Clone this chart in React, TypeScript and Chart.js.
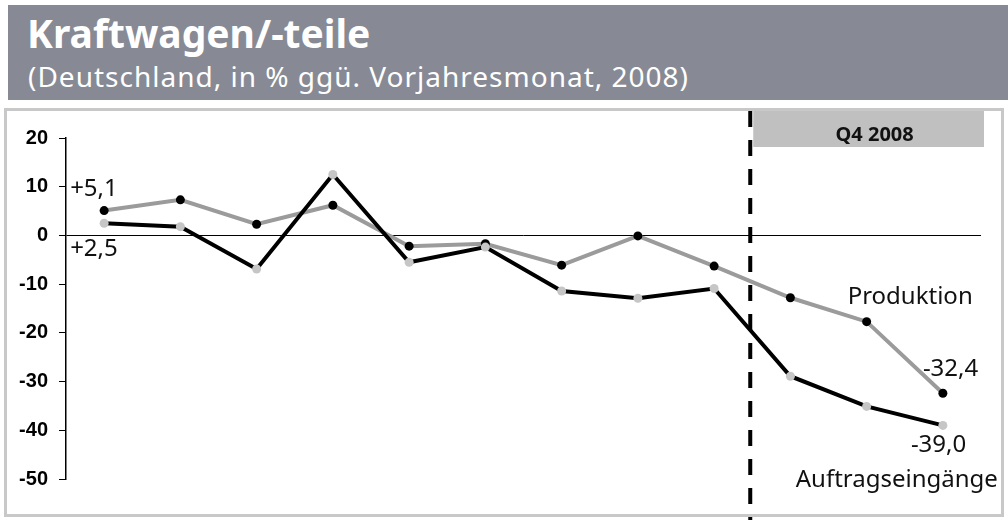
import React, { useEffect, useRef } from "react";
import { Chart, registerables } from "chart.js";

Chart.register(...registerables);

// ---- data ----
const months = ["Jan", "Feb", "Mär", "Apr", "Mai", "Jun", "Jul", "Aug", "Sep", "Okt", "Nov", "Dez"];
const produktion = [5.1, 7.3, 2.3, 6.2, -2.2, -1.7, -6.1, -0.1, -6.3, -12.8, -17.7, -32.4];
const auftragseingaenge = [2.5, 1.8, -6.9, 12.5, -5.5, -2.4, -11.4, -12.9, -10.9, -28.9, -35.1, -39.0];
const yTicks = [20, 10, 0, -10, -20, -30, -40, -50];
const seriesNames = ["Auftragseingänge", "Produktion"];
const produktionEndLabels = ["+5,1", "-32,4"];
const auftragEndLabels = ["+2,5", "-39,0"];
const quarterLabel = "Q4 2008";
const quarterStart = 8.5; // boundary between Sep and Okt (category index)
const titleText = "Kraftwagen/-teile";
const subtitleText = "(Deutschland, in % ggü. Vorjahresmonat, 2008)";

const LABEL_FONT = "24px 'Noto Sans'";

const annotationPlugin = {
  id: "annotations",
  beforeDatasetsDraw(chart: any) {
    const { ctx, chartArea } = chart;
    const xd = chart.scales.x.getPixelForValue(quarterStart);
    ctx.save();
    ctx.fillStyle = "#c0c0c0";
    const bx = xd + 1;
    const bw = chartArea.right + 3 - bx;
    ctx.fillRect(bx, 111, bw, 36);
    ctx.fillStyle = "#111";
    ctx.font = "bold 20px 'Noto Sans'";
    ctx.textAlign = "center";
    ctx.textBaseline = "alphabetic";
    ctx.fillText(quarterLabel, bx + bw / 2 + 6, 141);
    ctx.restore();
  },
  afterDatasetsDraw(chart: any) {
    const { ctx } = chart;
    const xd = chart.scales.x.getPixelForValue(quarterStart);
    ctx.save();
    ctx.strokeStyle = "#000";
    ctx.lineWidth = 4;
    ctx.setLineDash([16, 13]);
    ctx.beginPath();
    ctx.moveTo(xd - 2, 111);
    ctx.lineTo(xd - 2, 520);
    ctx.stroke();
    ctx.setLineDash([]);

    const auft = chart.getDatasetMeta(0).data;
    const prod = chart.getDatasetMeta(1).data;
    const last = produktion.length - 1;
    ctx.fillStyle = "#111";
    ctx.font = LABEL_FONT;
    ctx.textBaseline = "alphabetic";
    ctx.textAlign = "left";
    ctx.fillText(produktionEndLabels[0], prod[0].x - 34, prod[0].y - 15);
    ctx.fillText(auftragEndLabels[0], auft[0].x - 34, auft[0].y + 33);
    ctx.fillText(produktionEndLabels[1], prod[last].x - 20, prod[last].y - 17);
    ctx.fillText(auftragEndLabels[1], auft[last].x - 32, auft[last].y + 27);
    ctx.fillText(seriesNames[1], prod[last - 1].x - 19, prod[last - 1].y - 18);
    ctx.textAlign = "right";
    ctx.fillText(seriesNames[0], auft[last].x + 55, auft[last].y + 62);
    ctx.restore();
  },
};

export default function App() {
  const canvasRef = useRef<HTMLCanvasElement | null>(null);

  useEffect(() => {
    if (!canvasRef.current) return;
    const chart = new Chart(canvasRef.current, {
      type: "line",
      data: {
        labels: months,
        datasets: [
          {
            label: seriesNames[0],
            data: auftragseingaenge,
            borderColor: "#000000",
            borderWidth: 4,
            pointRadius: 4.5,
            pointBackgroundColor: "#c6c6c6",
            pointBorderWidth: 0,
            tension: 0,
          },
          {
            label: seriesNames[1],
            data: produktion,
            borderColor: "#9b9b9b",
            borderWidth: 4,
            pointRadius: 4.5,
            pointBackgroundColor: "#000000",
            pointBorderWidth: 0,
            tension: 0,
          },
        ],
      },
      options: {
        animation: false,
        responsive: false,
        devicePixelRatio: 1,
        layout: { padding: { left: 0, top: 138, right: 27, bottom: 41 } },
        plugins: {
          legend: { display: false },
          tooltip: { enabled: false },
        },
        scales: {
          x: { type: "category", display: false, offset: true },
          y: {
            min: -50,
            max: 20,
            afterFit: (s: any) => {
              s.width = 66;
            },
            afterBuildTicks: (s: any) => {
              s.ticks = yTicks.map((v) => ({ value: v }));
            },
            ticks: {
              padding: 11,
              color: "#000",
              font: { family: "'Liberation Sans', Arial", size: 20, weight: "bold" },
              callback: (v: any) => String(v),
            },
            grid: {
              color: (c: any) => (c.tick && c.tick.value === 0 ? "#000" : "rgba(0,0,0,0)"),
              tickColor: "#000",
              tickLength: 7,
              lineWidth: 1,
            },
            border: { display: true, color: "#000", width: 1.5 },
          },
        },
      },
      plugins: [annotationPlugin],
    });
    return () => chart.destroy();
  }, []);

  return (
    <div
      style={{
        position: "absolute",
        left: 0,
        top: 0,
        width: 1008,
        height: 520,
        background: "#fff",
        overflow: "hidden",
      }}
    >
      <div style={{ position: "absolute", left: 8, top: 5, width: 1000, height: 95, background: "#878a94" }} />
      <div
        style={{
          position: "absolute",
          left: 27,
          top: 13,
          font: "bold 39px 'Noto Sans'",
          lineHeight: "39px",
          color: "#fff",
          whiteSpace: "nowrap",
        }}
      >
        {titleText}
      </div>
      <div
        style={{
          position: "absolute",
          left: 28,
          top: 62,
          font: "28px 'Noto Sans'",
          lineHeight: "28px",
          letterSpacing: "1px",
          color: "#fff",
          whiteSpace: "nowrap",
        }}
      >
        {subtitleText}
      </div>
      <div
        style={{
          position: "absolute",
          left: 4,
          top: 108,
          width: 1000,
          height: 409,
          border: "3px solid #c8c8c8",
          boxSizing: "border-box",
        }}
      />
      <canvas
        ref={canvasRef}
        width={1008}
        height={520}
        style={{ position: "absolute", left: 0, top: 0, width: 1008, height: 520 }}
      />
    </div>
  );
}
